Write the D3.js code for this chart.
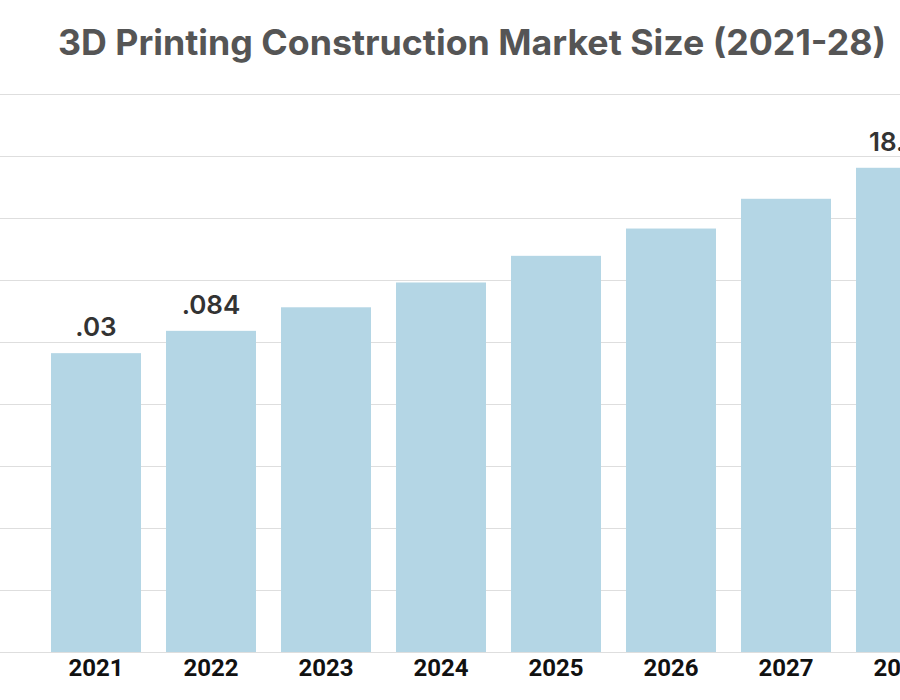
<!DOCTYPE html>
<html lang="en">
<head>
    <meta charset="UTF-8">
    <title>3D Printing Construction Market Size</title>
    <style>
        body{ margin:0; background:#fff;}
        svg{ display:block;}
        .grid line{ stroke:#dedede; stroke-width:1.2px;}
        .grid path{ display:none;}
    </style>
</head>
<body>

<script src="https://cdn.jsdelivr.net/npm/d3@7"></script>
<script>

// years on the x axis
var years = ["2021", "2022", "2023", "2024", "2025", "2026", "2027", "2028"];
// bar heights in gridline units
var values = [4.82, 5.18, 5.56, 5.96, 6.39, 6.83, 7.31, 7.81];
// value labels as they show in the picture (blank where there is none)
var labels = [".03", ".084", "", "", "", "", "", "18."];
// gridline ticks
var gridTicks = [0, 1, 2, 3, 4, 5, 6, 7, 8, 9];

var width = 900, height = 700;

var svg = d3.select("body").append("svg")
        .attr("width", width)
        .attr("height", height);

var x = d3.scaleBand()
        .domain(years)
        .range([38.5, 958.5])
        .paddingInner(25 / 115)
        .paddingOuter(12.5 / 115);

var y = d3.scaleLinear()
        .domain([0, 9])
        .range([652, 94]);

// title
svg.append("text")
        .attr("x", 472)
        .attr("y", 55)
        .attr("text-anchor", "middle")
        .attr("textLength", 828)
        .attr("lengthAdjust", "spacingAndGlyphs")
        .style("font-family", "Inter, 'Open Sans', sans-serif")
        .style("font-weight", 700)
        .style("font-size", "35px")
        .style("fill", "#555")
        .text("3D Printing Construction Market Size (2021-28)");

// horizontal gridlines, full width
svg.append("g")
        .attr("class", "grid")
        .call(d3.axisLeft(y).tickValues(gridTicks).tickSize(-width).tickFormat(""));

// bars
svg.selectAll(".bar")
        .data(values)
        .enter().append("rect")
        .attr("class", "bar")
        .attr("x", function(d, i){ return x(years[i]); })
        .attr("y", function(d){ return y(d); })
        .attr("width", x.bandwidth())
        .attr("height", function(d){ return y(0) - y(d); })
        .attr("fill", "#b4d6e5");

// value labels; the last one is cut by the right edge, so it starts from the bar's left side
svg.selectAll(".val")
        .data(values)
        .enter().append("text")
        .attr("class", "val")
        .attr("x", function(d, i){
            return i === years.length - 1 ? x(years[i]) + 13 : x(years[i]) + x.bandwidth() / 2;
        })
        .attr("y", function(d){ return y(d) - 17; })
        .attr("text-anchor", function(d, i){ return i === years.length - 1 ? "start" : "middle"; })
        .style("font-family", "Inter, 'Open Sans', sans-serif")
        .style("font-weight", 600)
        .style("font-size", "26px")
        .style("fill", "#333")
        .text(function(d, i){ return labels[i]; });

// year labels
svg.selectAll(".year")
        .data(years)
        .enter().append("text")
        .attr("class", "year")
        .attr("x", function(d){ return x(d) + x.bandwidth() / 2; })
        .attr("y", 676)
        .attr("text-anchor", "middle")
        .style("font-family", "Roboto, Inter, sans-serif")
        .style("font-weight", 700)
        .style("font-size", "24px")
        .style("fill", "#111")
        .text(function(d){ return d; });

</script>

</body>
</html>
